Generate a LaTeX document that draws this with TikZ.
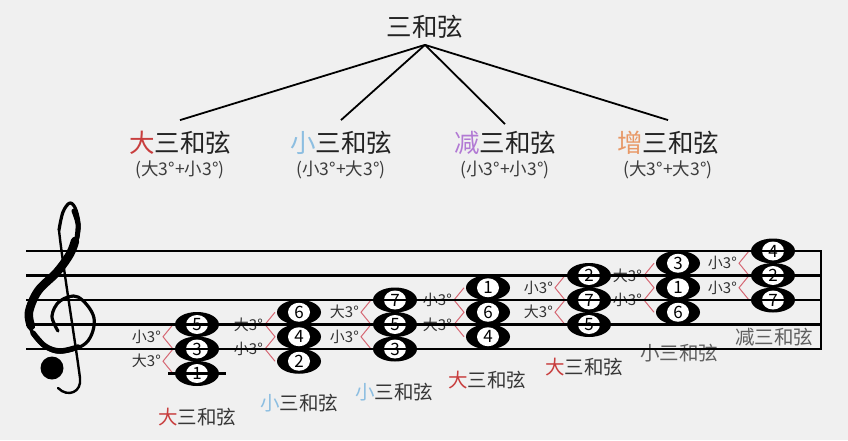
\documentclass[tikz,border=0pt]{standalone}
\usepackage{fontspec}
\setmainfont{Noto Sans CJK SC}
\usetikzlibrary{shapes.geometric}
\definecolor{bgc}{RGB}{240,240,240}
\definecolor{redc}{RGB}{200,62,62}
\definecolor{bluec}{RGB}{140,190,225}
\definecolor{purplec}{RGB}{178,122,212}
\definecolor{orangec}{RGB}{232,152,102}
\definecolor{darkc}{RGB}{35,35,35}
\definecolor{subc}{RGB}{60,60,60}
\definecolor{labc}{RGB}{55,55,55}
\definecolor{lab2c}{RGB}{95,95,95}
\definecolor{ivc}{RGB}{50,50,50}
\definecolor{zigc}{RGB}{214,104,116}
\tikzset{
  staffline/.style={line width=2.2pt, draw=black},
  treeline/.style={line width=1.8pt, draw=black},
  notehead/.style={ellipse, fill=black, minimum width=44pt, minimum height=25pt, inner sep=0pt,
    font=\fontsize{17}{17}\selectfont, text=black,
    path picture={\fill[white] (path picture bounding box.center) ellipse [x radius=11pt, y radius=9.5pt];}},
  zig/.style={draw=zigc, line width=1pt},
  ivl/.style={anchor=east, inner sep=0pt, font=\fontsize{15}{15}\selectfont, text=ivc},
  chordlab/.style={inner sep=0pt, font=\fontsize{19.5}{20}\selectfont, text=labc},
  cat/.style={inner sep=2pt, font=\fontsize{25.5}{28}\selectfont, text=darkc},
  subt/.style={inner sep=0pt, font=\fontsize{17.5}{19}\selectfont, text=subc},
  clefline/.style={draw=black, line cap=round, line join=round},
}
\begin{document}
\begin{tikzpicture}[x=1pt,y=-1pt]
\useasboundingbox (0,0) rectangle (848,440);
\fill[bgc] (0,0) rectangle (848,440);

% ---------- tree ----------
\node[cat] (t) at (425,27) {三和弦};
\node[cat] (c1) at (180,143) {\textcolor{redc}{大}三和弦};
\node[cat] (c2) at (341,143) {\textcolor{bluec}{小}三和弦};
\node[cat] (c3) at (505,143) {\textcolor{purplec}{减}三和弦};
\node[cat] (c4) at (668,143) {\textcolor{orangec}{增}三和弦};
\node[subt] (s1) at (180,170) {(大3°+小3°)};
\node[subt] (s2) at (341,170) {(小3°+大3°)};
\node[subt] (s3) at (505,170) {(小3°+小3°)};
\node[subt] (s4) at (668,170) {(大3°+大3°)};
\coordinate (apex) at ([yshift=-4pt]t.south);
\draw[treeline] (apex) -- ([yshift=9pt]c1.north);
\draw[treeline] (apex) -- ([yshift=9pt]c2.north);
\draw[treeline] (apex) -- ([yshift=5pt]c3.north);
\draw[treeline] (apex) -- ([yshift=9pt]c4.north);

% ---------- treble clef ----------
\draw[clefline, line width=3.2pt] plot[smooth, tension=0.6] coordinates {
  (58,331) (52,316) (60,301) (78,297) (94,318) (86,343) (57,352) (35,337) (28,313)
  (38,291) (57,272) (72,251) (79,229) (76,210) (70,203) (63,212) (59,230)};
\draw[clefline, line width=2.4pt] (59,230) .. controls (62,260) and (75,340) .. (80,378)
  .. controls (82,392) and (68,398) .. (58,388);
\draw[clefline, line width=8.5pt] plot[smooth, tension=0.6] coordinates {
  (31,326) (29,312) (38,291) (57,272) (70,254) (75,241)};
\draw[clefline, line width=5.5pt] plot[smooth, tension=0.6] coordinates {
  (33,333) (45,346) (60,351) (78,347)};
\draw[clefline, line width=5pt] plot[smooth, tension=0.6] coordinates {
  (74,211) (78,224) (77,238)};
\fill[black] (52,368) circle [radius=11.5];

% ---------- chord 1 (x=197) ----------
\node[notehead] (a1) at (197,373.5) {1};
\node[notehead] (a3) at (197,349) {3};
\node[notehead] (a5) at (197,324.5) {5};
\draw[zig] (173,324.5) -- (163,336.75) -- (173,349) -- (163,361.25) -- (173,373.5);
\node[ivl] (ia1) at (161,336.75) {小3°};
\node[ivl] (ia2) at (161,361.25) {大3°};
\node[chordlab] (la) at (197,417) {\textcolor{redc}{大}三和弦};

% ---------- chord 2 (x=299) ----------
\node[notehead] (b2) at (299,361.25) {2};
\node[notehead] (b4) at (299,336.75) {4};
\node[notehead] (b6) at (299,312.25) {6};
\draw[zig] (275,312.25) -- (265,324.5) -- (275,336.75) -- (265,349) -- (275,361.25);
\node[ivl] (ib1) at (263,324.5) {大3°};
\node[ivl] (ib2) at (263,349) {小3°};
\node[chordlab] (lb) at (299,403) {\textcolor{bluec}{小}三和弦};

% ---------- chord 3 (x=395) ----------
\node[notehead] (c3n) at (395,349) {3};
\node[notehead] (c5n) at (395,324.5) {5};
\node[notehead] (c7n) at (395,300) {7};
\draw[zig] (371,300) -- (361,312.25) -- (371,324.5) -- (361,336.75) -- (371,349);
\node[ivl] (ic1) at (359,312.25) {大3°};
\node[ivl] (ic2) at (359,336.75) {小3°};
\node[chordlab] (lc) at (394,392) {\textcolor{bluec}{小}三和弦};

% ---------- chord 4 (x=488) ----------
\node[notehead] (d4) at (488,336.75) {4};
\node[notehead] (d6) at (488,312.25) {6};
\node[notehead] (d1) at (488,287.75) {1};
\draw[zig] (464,287.75) -- (454,300) -- (464,312.25) -- (454,324.5) -- (464,336.75);
\node[ivl] (id1) at (452,300) {小3°};
\node[ivl] (id2) at (452,324.5) {大3°};
\node[chordlab] (ld) at (487,380) {\textcolor{redc}{大}三和弦};

% ---------- chord 5 (x=589) ----------
\node[notehead] (e5) at (589,324.5) {5};
\node[notehead] (e7) at (589,300) {7};
\node[notehead] (e2) at (589,275.5) {2};
\draw[zig] (565,275.5) -- (555,287.75) -- (565,300) -- (555,312.25) -- (565,324.5);
\node[ivl] (ie1) at (553,287.75) {小3°};
\node[ivl] (ie2) at (553,312.25) {大3°};
\node[chordlab] (le) at (584,367) {\textcolor{redc}{大}三和弦};

% ---------- chord 6 (x=678) ----------
\node[notehead] (f6) at (678,312.25) {6};
\node[notehead] (f1) at (678,287.75) {1};
\node[notehead] (f3) at (678,263.25) {3};
\draw[zig] (654,263.25) -- (644,275.5) -- (654,287.75) -- (644,300) -- (654,312.25);
\node[ivl] (if1) at (642,275.5) {大3°};
\node[ivl] (if2) at (642,300) {小3°};
\node[chordlab, text=lab2c] (lf) at (679,353) {小三和弦};

% ---------- chord 7 (x=773) ----------
\node[notehead] (g7) at (773,300) {7};
\node[notehead] (g2) at (773,275.5) {2};
\node[notehead] (g4) at (773,251) {4};
\draw[zig] (749,251) -- (739,263.25) -- (749,275.5) -- (739,287.75) -- (749,300);
\node[ivl] (ig1) at (737,263.25) {小3°};
\node[ivl] (ig2) at (737,287.75) {小3°};
\node[chordlab, text=lab2c] (lg) at (774,337) {减三和弦};

% ---------- staff (on top) ----------
\draw[staffline] (26,251) -- (821,251);
\draw[staffline] (26,275.5) -- (821,275.5);
\draw[staffline] (26,300) -- (821,300);
\draw[staffline] (26,324.5) -- (821,324.5);
\draw[staffline] (26,349) -- (821,349);
\draw[staffline, line cap=rect] (821,251) -- (821,349);
\draw[staffline] (168,373.5) -- (226,373.5);
\end{tikzpicture}
\end{document}
